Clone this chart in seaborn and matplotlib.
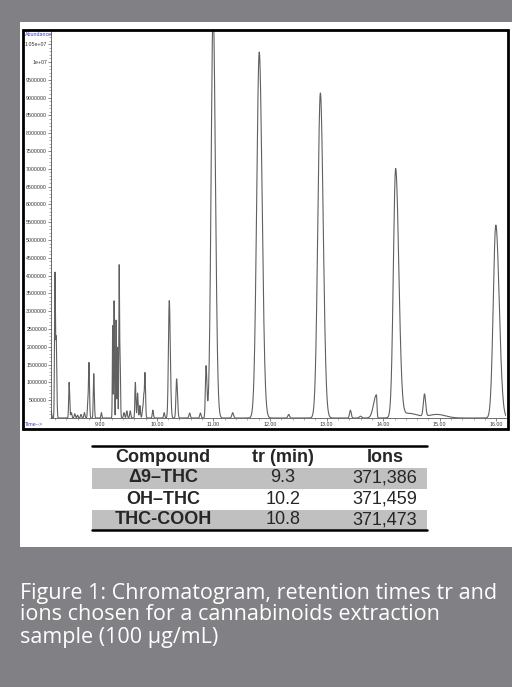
import numpy as np
import pandas as pd
import matplotlib
matplotlib.use("Agg")
import matplotlib.pyplot as plt
import seaborn as sns
from matplotlib.patches import Rectangle
from matplotlib.lines import Line2D
from matplotlib.ticker import AutoMinorLocator, FuncFormatter

# peak table: retention time (min), height (abundance),
# left / right width (min)
peak_time = [8.130, 8.200, 8.222, 8.450, 8.490, 8.550, 8.600, 8.660, 8.720, 8.780, 8.800,
             8.885, 9.020, 9.220, 9.245, 9.280, 9.305, 9.335, 9.350, 9.420, 9.470, 9.530,
             9.620, 9.660, 9.700, 9.750, 9.770, 9.790, 9.930, 10.130, 10.220, 10.350,
             10.580, 10.770, 10.870, 10.995, 11.340, 11.810, 12.330, 12.890, 13.420,
             13.600, 13.880, 14.220, 14.450, 14.730, 14.950, 15.990]
peak_height = [0.2e6, 4.05e6, 2.2e6, 1.0e6, 0.15e6, 0.12e6, 0.08e6, 0.1e6, 0.15e6, 0.4e6, 1.55e6,
               1.25e6, 0.15e6, 2.6e6, 3.3e6, 2.75e6, 2.0e6, 4.25e6, 1.7e6, 0.15e6, 0.2e6, 0.2e6,
               1.0e6, 0.7e6, 0.35e6, 0.25e6, 0.6e6, 1.25e6, 0.22e6, 0.15e6, 3.3e6, 1.1e6,
               0.14e6, 0.14e6, 1.45e6, 11.5e6, 0.15e6, 10.28e6, 0.1e6, 9.13e6, 0.22e6,
               0.05e6, 0.65e6, 6.97e6, 0.13e6, 0.62e6, 0.1e6, 5.42e6]
width_left = [0.01, 0.008, 0.008, 0.008, 0.01, 0.01, 0.01, 0.01, 0.01, 0.008, 0.008,
              0.008, 0.008, 0.006, 0.006, 0.006, 0.006, 0.006, 0.006, 0.01, 0.01, 0.01,
              0.008, 0.008, 0.008, 0.01, 0.008, 0.008, 0.01, 0.01, 0.015, 0.012,
              0.012, 0.012, 0.012, 0.035, 0.015, 0.045, 0.015, 0.045, 0.015,
              0.02, 0.05, 0.04, 0.15, 0.02, 0.15, 0.045]
width_right = [0.01, 0.008, 0.01, 0.01, 0.01, 0.01, 0.01, 0.01, 0.01, 0.008, 0.01,
               0.01, 0.008, 0.006, 0.006, 0.006, 0.006, 0.006, 0.008, 0.01, 0.01, 0.01,
               0.01, 0.01, 0.01, 0.01, 0.008, 0.01, 0.01, 0.01, 0.018, 0.015,
               0.012, 0.012, 0.015, 0.04, 0.015, 0.05, 0.015, 0.05, 0.015,
               0.02, 0.01, 0.055, 0.15, 0.02, 0.15, 0.06]

compounds = ["Δ9–THC", "OH–THC", "THC-COOH"]
tr_min = ["9.3", "10.2", "10.8"]
ions = ["371,386", "371,459", "371,473"]
headers = ["Compound", "tr (min)", "Ions"]

xticks = [9, 10, 11, 12, 13, 14, 15, 16]
yticks = np.arange(500000, 10500001, 500000)

caption = ["Figure 1: Chromatogram, retention times tr and",
           "ions chosen for a cannabinoids extraction",
           "sample (100 µg/mL)"]

# build the trace from the peak table
t = np.linspace(8.13, 16.17, 5000)
signal = np.zeros_like(t)
for tp, h, wl, wr in zip(peak_time, peak_height, width_left, width_right):
    w = np.where(t < tp, wl, wr)
    signal += h * np.exp(-0.5 * ((t - tp) / w) ** 2)
df = pd.DataFrame({"time": t, "abundance": signal})

sns.set_style("white")
plt.rcParams["font.family"] = ["Liberation Sans", "DejaVu Sans"]

W, H = 512, 687
def fx(px):
    return px / W
def fy(py):
    return 1 - py / H

gray = "#818185"
fig = plt.figure(figsize=(5.12, 6.87), dpi=100)
fig.patch.set_facecolor(gray)
fig.add_artist(Rectangle((fx(20), fy(547)), fx(492), (547 - 22) / H,
                         transform=fig.transFigure, facecolor="white",
                         edgecolor="none", zorder=-5))

ax = fig.add_axes([fx(51), fy(418), fx(506 - 51), (418 - 31) / H])
ax.set_facecolor("none")
sns.lineplot(data=df, x="time", y="abundance", ax=ax, color="#606060", lw=0.8)
ax.set_xlim(8.13, 16.17)
ax.set_ylim(0, (418 - 31) / 35.6e-6)
ax.set_xlabel("")
ax.set_ylabel("")
ax.set_xticks(xticks)
ax.xaxis.set_major_formatter(FuncFormatter(lambda v, p: "%.2f" % v))
ax.set_yticks(yticks)
ax.yaxis.set_major_formatter(FuncFormatter(lambda v, p: str(int(v)) if v < 1e7 else "%g" % v))
ax.xaxis.set_minor_locator(AutoMinorLocator(5))
ax.yaxis.set_minor_locator(AutoMinorLocator(5))
ax.tick_params(axis="both", which="major", direction="out", length=2.2, width=0.5,
               labelsize=3.8, colors="#555555", labelcolor="#333333", pad=0.6)
ax.tick_params(axis="both", which="minor", direction="out", length=1.2, width=0.4,
               colors="#777777")
ax.tick_params(left=True, bottom=True, which="both")
for s in ["top", "right"]:
    ax.spines[s].set_visible(False)
for s in ["left", "bottom"]:
    ax.spines[s].set_color("#555555")
    ax.spines[s].set_linewidth(0.6)

fig.text(fx(25), fy(34.5), "Abundance", color="#3a3ad0", fontsize=3.8,
         va="center", ha="left", zorder=6)
fig.text(fx(25), fy(424), "Time-->", color="#3a3ad0", fontsize=3.8,
         va="center", ha="left", zorder=6)

# black frame around the chromatogram
fig.add_artist(Rectangle((fx(22.5), fy(429)), fx(508 - 22.5), (429 - 30) / H,
                         transform=fig.transFigure, fill=False, edgecolor="black",
                         lw=2.0, zorder=5))

# table
tx0, tx1 = 92, 427
col_x = [163, 283, 385]
row_y = [457, 478, 499, 520]
for i, yc in enumerate(row_y[1:]):
    if i % 2 == 0:
        fig.add_artist(Rectangle((fx(tx0), fy(yc + 10.5)), fx(tx1 - tx0), 21 / H,
                                 transform=fig.transFigure, facecolor="#c0c0c0",
                                 edgecolor="none", zorder=1))
for yl in [446, 530]:
    fig.add_artist(Line2D([fx(tx0), fx(tx1)], [fy(yl), fy(yl)], color="black", lw=1.8,
                          transform=fig.transFigure, zorder=2))
for j, h in enumerate(headers):
    fig.text(fx(col_x[j]), fy(row_y[0]), h, fontsize=13, fontweight="bold",
             ha="center", va="center", zorder=3)
for i in range(len(compounds)):
    yc = fy(row_y[i + 1])
    fig.text(fx(col_x[0]), yc, compounds[i], fontsize=13, fontweight="bold",
             ha="center", va="center", zorder=3)
    fig.text(fx(col_x[1]), yc, tr_min[i], fontsize=13, ha="center", va="center", zorder=3)
    fig.text(fx(col_x[2]), yc, ions[i], fontsize=13, ha="center", va="center", zorder=3)

for k, line in enumerate(caption):
    fig.text(fx(20), fy(593 + 22 * k), line, color="white", fontsize=15.5,
             family=["Open Sans", "DejaVu Sans"], ha="left", va="center")

fig.savefig("out.png", dpi=100, facecolor=fig.get_facecolor())
